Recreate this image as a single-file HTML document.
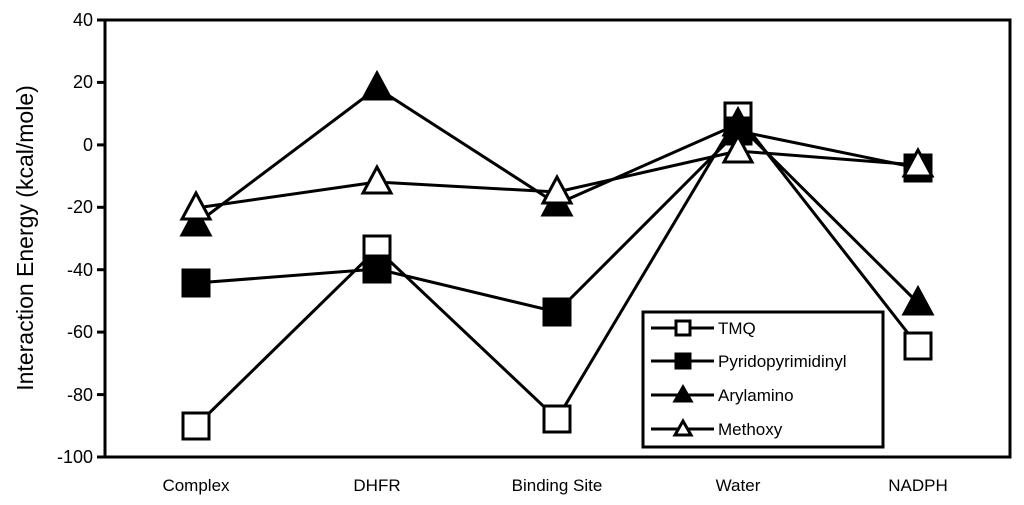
<!DOCTYPE html>
<html><head><meta charset="utf-8"><style>html,body{margin:0;padding:0;background:#fff}svg{display:block}</style></head>
<body>
<svg width="1024" height="505" viewBox="0 0 1024 505" xmlns="http://www.w3.org/2000/svg" font-family="Liberation Sans, Arial, sans-serif">
<rect x="105" y="20" width="905" height="437" fill="none" stroke="#000" stroke-width="3"/>
<g stroke="#000" stroke-width="3">
<line x1="97" y1="20" x2="105" y2="20"/><line x1="97" y1="82.4" x2="105" y2="82.4"/><line x1="97" y1="144.9" x2="105" y2="144.9"/><line x1="97" y1="207.3" x2="105" y2="207.3"/><line x1="97" y1="269.7" x2="105" y2="269.7"/><line x1="97" y1="332.1" x2="105" y2="332.1"/><line x1="97" y1="394.6" x2="105" y2="394.6"/><line x1="97" y1="457" x2="105" y2="457"/>
</g>
<g font-size="18" text-anchor="end" fill="#000">
<text x="93" y="26">40</text><text x="93" y="88">20</text><text x="93" y="151">0</text><text x="93" y="213">-20</text><text x="93" y="276">-40</text><text x="93" y="338">-60</text><text x="93" y="401">-80</text><text x="93" y="463">-100</text>
</g>
<text transform="translate(33,238) rotate(-90)" font-size="23" text-anchor="middle">Interaction Energy (kcal/mole)</text>
<g font-size="17" text-anchor="middle">
<text x="196" y="491">Complex</text><text x="377" y="491">DHFR</text><text x="557" y="491">Binding Site</text><text x="738" y="491">Water</text><text x="918" y="491">NADPH</text>
</g>
<g stroke="#000" stroke-width="3" stroke-linejoin="miter">
<polyline fill="none" points="196,426 377,249 557,419 738,116 918,346"/>
<g fill="#fff"><rect x="183" y="413" width="26" height="26"/><rect x="364" y="236" width="26" height="26"/><rect x="544" y="406" width="26" height="26"/><rect x="725" y="103" width="26" height="26"/><rect x="905" y="333" width="26" height="26"/></g>
<polyline fill="none" points="196,283 377,269 557,312 738,131 918,168"/>
<g fill="#000"><rect x="183" y="270" width="26" height="26"/><rect x="364" y="256" width="26" height="26"/><rect x="544" y="299" width="26" height="26"/><rect x="725" y="118" width="26" height="26"/><rect x="905" y="155" width="26" height="26"/></g>
<polyline fill="none" points="196,224 377,88 557,204 738,124 918,303"/>
<g fill="#000"><polygon points="196,209 182,235 210,235"/><polygon points="377,73 363,99 391,99"/><polygon points="557,189 543,215 571,215"/><polygon points="738,109 724,135 752,135"/><polygon points="918,288 904,314 932,314"/></g>
<polyline fill="none" points="196,208 377,182 557,192 738,151 918,165"/>
<g fill="#fff"><polygon points="196,193 182,219 210,219"/><polygon points="377,167 363,193 391,193"/><polygon points="557,177 543,203 571,203"/><polygon points="738,136 724,162 752,162"/><polygon points="918,150 904,176 932,176"/></g>
</g>
<rect x="643" y="312" width="240" height="135" fill="#fff" stroke="#000" stroke-width="3"/>
<g stroke="#000" stroke-width="3">
<line x1="651" y1="328" x2="714" y2="328"/><rect x="676" y="321" width="14" height="14" fill="#fff"/>
<line x1="651" y1="361" x2="714" y2="361"/><rect x="676" y="354" width="14" height="14" fill="#000"/>
<line x1="651" y1="395" x2="714" y2="395"/><polygon points="683,387 675,401 691,401" fill="#000"/>
<line x1="651" y1="429" x2="714" y2="429"/><polygon points="683,421 675,435 691,435" fill="#fff"/>
</g>
<g font-size="17">
<text x="718" y="334">TMQ</text><text x="718" y="367">Pyridopyrimidinyl</text><text x="718" y="401">Arylamino</text><text x="718" y="435">Methoxy</text>
</g>
</svg>
</body></html>
